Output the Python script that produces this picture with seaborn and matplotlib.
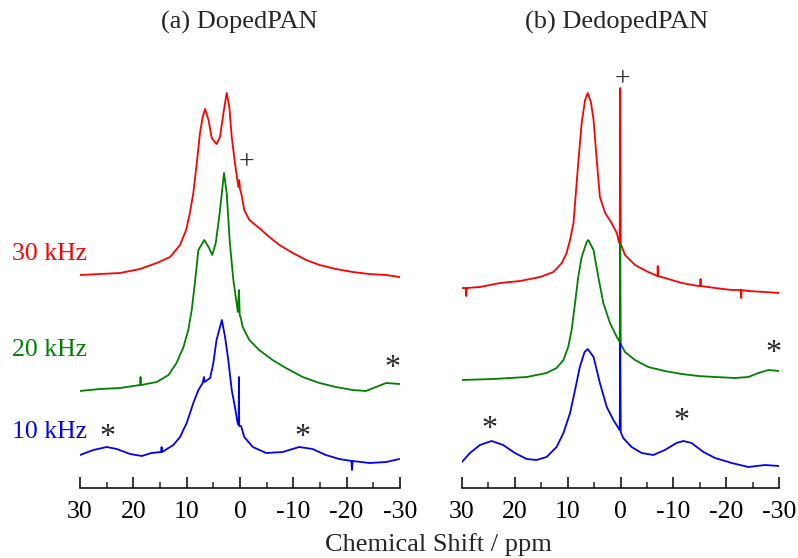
import matplotlib
matplotlib.use("Agg")
import matplotlib.pyplot as plt
import seaborn as sns
import pandas as pd

# rotores: 30, 20, 10 kHz
rotacoes = ["30 kHz", "20 kHz", "10 kHz"]
cores = ["#ff0000", "#008000", "#0000ff"]

# (a) DopedPAN - deslocamento quimico (ppm) e intensidade (u.a.)
dop_30_ppm = [30.0, 26.25, 22.5, 18.75, 15.6, 13.1, 11.25, 10.1, 9.4, 8.75, 8.1, 7.5, 7.0, 6.55,
              5.9, 5.3, 4.4, 3.75, 3.1, 2.5, 2.0, 1.55, 0.95, 0.5, 0.3, 0.15, 0.0, -0.3, -0.8,
              -1.75, -3.6, -5.5, -7.4, -9.9, -12.4, -14.9, -18.0, -21.1, -24.25, -27.4, -29.9]
dop_30_int = [0, 1, 2, 6, 12, 18, 30, 45, 62, 82, 112, 142, 158, 166,
              155, 137, 131, 138, 162, 182, 168, 138, 112, 95, 88, 95, 86, 80, 65,
              55, 47, 38, 30, 22, 15, 10, 6, 3, 1, 0, -2]

dop_20_ppm = [30.0, 26.25, 22.5, 18.75, 18.65, 18.55, 15.6, 13.4, 11.9, 10.6, 9.7, 9.05, 8.4, 7.8,
              6.7, 5.9, 5.2, 4.55, 3.9, 3.4, 3.0, 2.5, 1.9, 1.25, 0.4, 0.2, 0.05, -0.2, -0.5,
              -1.75, -3.6, -6.1, -8.6, -11.75, -14.9, -18.0, -21.1, -23.6, -25.5, -27.4, -29.9]
dop_20_int = [0, 2, 3, 6, 14, 6, 9, 16, 28, 44, 61, 81, 111, 141,
              151, 144, 136, 148, 174, 198, 218, 198, 148, 111, 79, 101, 76, 72, 64,
              51, 41, 31, 23, 14, 8, 4, 1, 0, 4, 8, 7]

dop_10_ppm = [30.0, 27.5, 25.0, 23.1, 20.6, 18.4, 16.6, 14.8, 14.7, 14.6, 12.5, 11.25, 10.0, 8.75,
              7.8, 7.0, 6.75, 6.65, 5.6, 5.0, 4.4, 3.4, 2.8, 2.2, 1.55, 0.95, 0.45, 0.25, 0.2,
              0.15, -0.2, -0.8, -2.4, -4.9, -8.0, -11.1, -13.6, -16.1, -18.6, -20.9, -21.0,
              -21.1, -24.25, -27.4, -29.9]
dop_10_int = [1, 6, 9, 7, 2, 0, 3, 4, 9, 4, 11, 19, 33, 53,
              66, 73, 79, 74, 78, 93, 116, 136, 119, 96, 66, 49, 33, 31, 79,
              30, 30, 19, 9, 3, 4, 9, 7, 1, -3, -5, -14,
              -5, -7, -6, -3]

# (b) DedopedPAN
ded_30_ppm = [30.0, 29.3, 29.2, 29.1, 26.6, 22.8, 19.0, 15.2, 12.7, 11.1, 10.2, 9.55, 8.9, 8.6,
              8.0, 7.35, 6.7, 6.2, 5.6, 5.1, 4.5, 3.9, 2.9, 1.7, 0.7, 0.3, 0.15, 0.05, -0.05,
              -0.85, -2.75, -5.25, -7.0, -7.05, -7.1, -8.4, -11.6, -14.7, -15.1, -15.15, -15.2,
              -17.9, -21.05, -22.8, -22.85, -22.9, -24.2, -27.35, -30.0]
ded_30_int = [0, 0, -8, 0, 1, 5, 7, 11, 16, 25, 35, 48, 65, 85,
              125, 165, 188, 195, 186, 168, 128, 91, 75, 65, 55, 46, 45, 200, 44,
              33, 23, 16, 12, 22, 12, 10, 5, 2, 2, 9, 2,
              0, -2, -2, -10, -2, -3, -4, -5]

ded_20_ppm = [30.0, 24.1, 17.75, 14.0, 12.1, 10.8, 9.9, 9.25, 8.6, 8.0, 7.35, 6.4, 6.1, 5.1,
              4.2, 3.25, 2.0, 0.7, 0.15, 0.05, -0.05, -0.85, -2.75, -5.25, -8.4, -11.6, -14.7,
              -17.9, -21.7, -24.2, -26.1, -28.0, -30.0]
ded_20_int = [0, 1, 3, 7, 12, 20, 33, 50, 77, 103, 123, 138, 140, 130,
              103, 77, 57, 43, 38, 137, 36, 28, 20, 13, 9, 6, 4,
              3, 2, 3, 7, 10, 9]

ded_10_ppm = [30.0, 28.5, 26.6, 24.4, 22.2, 20.0, 17.75, 15.9, 14.0, 12.1, 10.8, 9.55, 8.6, 7.7,
              6.8, 6.2, 5.1, 3.9, 2.6, 1.35, 0.4, 0.15, 0.05, -0.05, -0.5, -2.1, -4.0, -6.2,
              -8.4, -10.6, -11.9, -13.45, -15.7, -17.9, -21.05, -24.2, -27.35, -30.0]
ded_10_int = [0, 9, 17, 21, 17, 9, 3, 2, 5, 15, 29, 49, 72, 95,
              110, 113, 105, 79, 55, 42, 34, 32, 119, 30, 24, 15, 9, 7,
              12, 19, 21, 19, 10, 4, -1, -5, -3, -4]

# deslocamento vertical de cada espectro (30, 20, 10 kHz)
offsets_dop = [213, 97, 32]
offsets_ded = [200, 108, 26]

paineis = [
    ("(a) DopedPAN", [(dop_30_ppm, dop_30_int), (dop_20_ppm, dop_20_int), (dop_10_ppm, dop_10_int)], offsets_dop),
    ("(b) DedopedPAN", [(ded_30_ppm, ded_30_int), (ded_20_ppm, ded_20_int), (ded_10_ppm, ded_10_int)], offsets_ded),
]

sns.set_theme(style="ticks")
plt.rcParams["font.family"] = ["Liberation Serif", "DejaVu Serif"]

fig = plt.figure(figsize=(7.98, 5.58), dpi=100)
W, H = 798, 558
eixos = [
    fig.add_axes([80 / W, 1 - 488 / H, 320 / W, 418 / H]),
    fig.add_axes([462 / W, 1 - 488 / H, 317 / W, 418 / H]),
]

for ax, (titulo, espectros, offs) in zip(eixos, paineis):
    for (ppm, inten), off, cor in zip(espectros, offs, cores):
        df = pd.DataFrame({"ppm": ppm, "y": [v + off for v in inten]})
        sns.lineplot(data=df, x="ppm", y="y", color=cor, linewidth=1.3,
                     sort=False, estimator=None, ax=ax)
    ax.set_xlim(30, -30)
    ax.set_ylim(0, 418)
    ax.set_xticks([30, 20, 10, 0, -10, -20, -30])
    ax.set_xticks([25, 15, 5, -5, -15, -25], minor=True)
    ax.set_xticklabels(["30", "20", "10", "0", "-10", "-20", "-30"])
    ax.tick_params(axis="x", which="major", direction="in", length=8, width=1.1,
                   labelsize=18.5, pad=9, colors="black")
    ax.tick_params(axis="x", which="minor", direction="in", length=4, width=1.1)
    ax.set_yticks([])
    for lado in ["left", "right", "top"]:
        ax.spines[lado].set_visible(False)
    ax.spines["bottom"].set_linewidth(1.1)
    ax.spines["bottom"].set_color("black")
    ax.set_xlabel("")
    ax.set_ylabel("")
    ax.patch.set_alpha(0)

# titulos dos paineis
fig.text(239 / W, 1 - 22 / H, "(a) DopedPAN", ha="center", va="center", fontsize=19)
fig.text(617 / W, 1 - 22 / H, "(b) DedopedPAN", ha="center", va="center", fontsize=19)

# rotulos de rotacao
for rot, cor, py in zip(rotacoes, cores, [254, 350, 432]):
    fig.text(12 / W, 1 - py / H, rot, ha="left", va="center", fontsize=18.5, color=cor)

fig.text(438 / W, 1 - 545 / H, "Chemical Shift / ppm", ha="center", va="center", fontsize=19)

# marcadores: + (referencia) e * (bandas laterais)
a, b = eixos
a.text(-1.3, 325, "+", ha="center", va="center", fontsize=20)
for x, y in [(24.9, 50), (-11.8, 50), (-28.5, 120)]:
    a.text(x, y, "*", ha="center", va="center", fontsize=23)
b.text(-0.3, 408, "+", ha="center", va="center", fontsize=20)
for x, y in [(24.9, 59), (-11.6, 66), (-28.9, 135)]:
    b.text(x, y, "*", ha="center", va="center", fontsize=23)

fig.savefig("out.png", dpi=100)
